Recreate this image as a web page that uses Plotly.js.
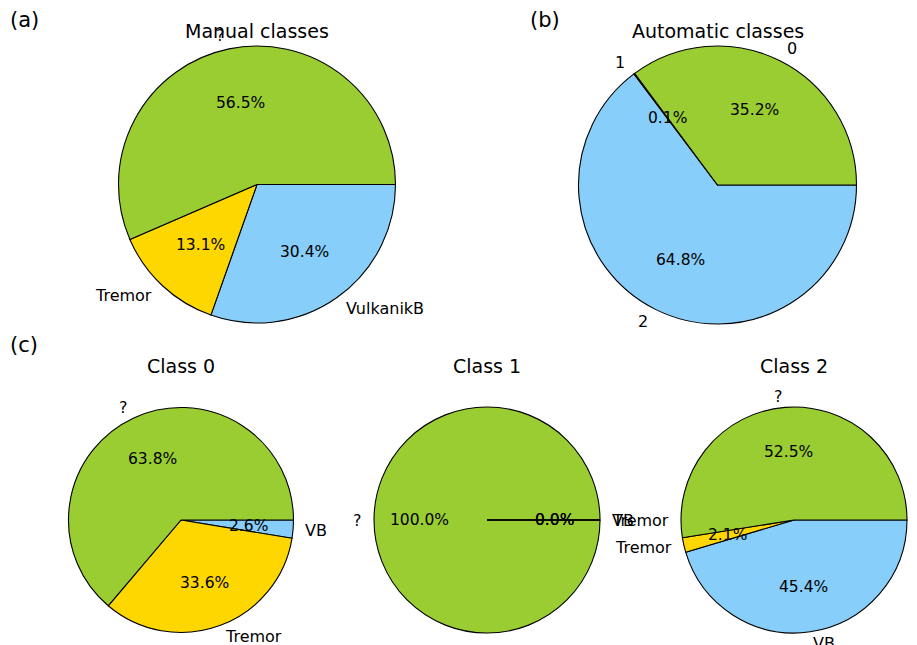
<!DOCTYPE html>
<html>
<head>
<meta charset="utf-8">
<script src="https://cdn.plot.ly/plotly-3.0.1.min.js"></script>
<style>html,body{margin:0;padding:0;background:#fff;}#chart{width:917px;height:645px;}</style>
</head>
<body>
<div id="chart"></div>
<script>
// ---- data ----
const manualLabels = ['?', 'Tremor', 'VulkanikB'];
const manualValues = [56.5, 13.1, 30.4];
const autoLabels = ['0', '1', '2'];
const autoValues = [35.2, 0.1, 64.8];
const classLabels = ['?', 'Tremor', 'VB'];
const class0Values = [63.8, 33.6, 2.6];
const class1Values = [100.0, 0.0, 0.0];
const class2Values = [52.5, 2.1, 45.4];
const titles = ['Manual classes', 'Automatic classes', 'Class 0', 'Class 1', 'Class 2'];
const panelTags = ['(a)', '(b)', '(c)'];
const sliceColors = ['#9ACD32', '#FFD700', '#87CEFA'];

// ---- layout (pixels) ----
const W = 917, H = 645;
const FONT = 'DejaVu Sans';
const pies = [
  {labels: manualLabels, values: manualValues, cx: 257, cy: 184.5, r: 138.5, title: titles[0], ty: 31},
  {labels: autoLabels,   values: autoValues,   cx: 717.5, cy: 185, r: 139, title: titles[1], ty: 31},
  {labels: classLabels,  values: class0Values, cx: 181, cy: 520, r: 112.5, title: titles[2], ty: 366},
  {labels: classLabels,  values: class1Values, cx: 487, cy: 520, r: 113, title: titles[3], ty: 366},
  {labels: classLabels,  values: class2Values, cx: 794, cy: 520, r: 113, title: titles[4], ty: 366}
];

const px = x => x / W;
const py = y => 1 - y / H;

const traces = [];
const annotations = [];
const shapes = [];
pies.forEach(p => {
  // matplotlib style: counterclockwise from 3 o'clock == clockwise from 3 o'clock with reversed order
  traces.push({
    type: 'pie',
    values: p.values.slice().reverse(),
    labels: p.labels.slice().reverse(),
    sort: false,
    direction: 'clockwise',
    rotation: 90,
    textinfo: 'none',
    hoverinfo: 'none',
    showlegend: false,
    marker: {colors: sliceColors.slice().reverse(), line: {color: '#000', width: 1.1}},
    domain: {x: [px(p.cx - p.r), px(p.cx + p.r)], y: [py(p.cy + p.r), py(p.cy - p.r)]}
  });
  const total = p.values.reduce((a, b) => a + b, 0);
  let cum = 0;
  p.values.forEach((v, i) => {
    const frac = v / total;
    const start = cum * 2 * Math.PI;
    const mid = (cum + frac / 2) * 2 * Math.PI;
    cum += frac;
    if (v === 0) {
      // zero-width wedge: matplotlib still strokes its edge
      shapes.push({
        type: 'line', xref: 'paper', yref: 'paper', layer: 'above',
        x0: px(p.cx), y0: py(p.cy),
        x1: px(p.cx + p.r * Math.cos(start)), y1: py(p.cy - p.r * Math.sin(start)),
        line: {color: '#000', width: 1.6}
      });
    }
    const c = Math.cos(mid), s = Math.sin(mid);
    annotations.push({
      xref: 'paper', yref: 'paper', showarrow: false, borderpad: 0,
      x: px(p.cx + 1.1 * p.r * c), y: py(p.cy - 1.1 * p.r * s),
      xanchor: c > 0 ? 'left' : 'right', yanchor: 'middle',
      text: p.labels[i], font: {family: FONT, size: 16, color: '#000'}
    });
    annotations.push({
      xref: 'paper', yref: 'paper', showarrow: false, borderpad: 0,
      x: px(p.cx + 0.6 * p.r * c), y: py(p.cy - 0.6 * p.r * s),
      xanchor: 'center', yanchor: 'middle',
      text: v.toFixed(1) + '%', font: {family: FONT, size: 15.5, color: '#000'}
    });
  });
  annotations.push({
    xref: 'paper', yref: 'paper', showarrow: false,
    x: px(p.cx), y: py(p.ty), xanchor: 'center', yanchor: 'middle',
    text: p.title, font: {family: FONT, size: 19, color: '#000'}
  });
});
const tagPos = [[8, 20], [528, 20], [8, 345]];
panelTags.forEach((t, i) => {
  annotations.push({
    xref: 'paper', yref: 'paper', showarrow: false,
    x: px(tagPos[i][0]), y: py(tagPos[i][1]), xanchor: 'left', yanchor: 'middle',
    text: t, font: {family: FONT, size: 21, color: '#000'}
  });
});

Plotly.newPlot('chart', traces, {
  width: W, height: H,
  margin: {l: 0, r: 0, t: 0, b: 0},
  paper_bgcolor: '#fff',
  annotations: annotations,
  shapes: shapes
}, {staticPlot: true});
</script>
</body>
</html>
